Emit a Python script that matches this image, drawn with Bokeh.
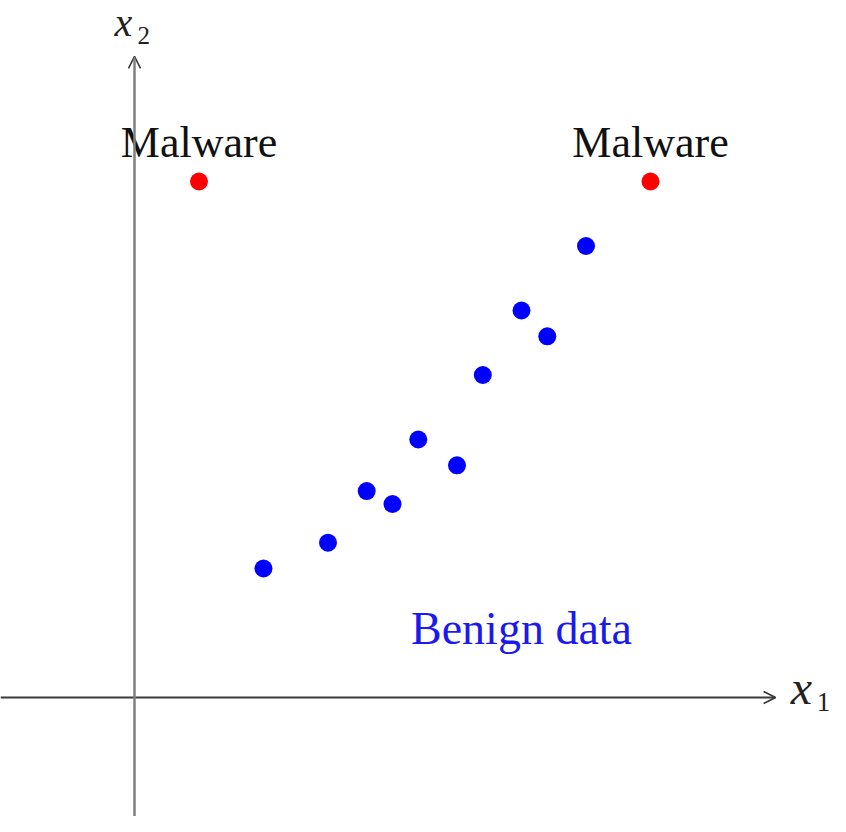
from bokeh.plotting import figure
from bokeh.models import Range1d, Arrow, OpenHead, ColumnDataSource
from bokeh.core.properties import value
from bokeh.embed import file_html
from bokeh.resources import INLINE

# Data
benign_x = [2.0, 3.0, 3.6, 4.0, 4.4, 5.0, 5.4, 6.0, 6.4, 7.0]
benign_y = [2.0, 2.4, 3.2, 3.0, 4.0, 3.6, 5.0, 6.0, 5.6, 7.0]
malware_x = [1.0, 8.0]
malware_y = [8.0, 8.0]
malware_labels = ["Malware", "Malware"]
benign_label = "Benign data"
axis_end = 9.94

W, H = 830, 816
unit = 64.5
ox, oy = 134, 697  # origin in plot pixels (from left/top)

p = figure(width=W, height=H, output_backend="svg", toolbar_location=None,
           x_range=Range1d(-ox / unit, (W - ox) / unit),
           y_range=Range1d(-(H - oy) / unit, oy / unit),
           min_border=0, min_border_left=0, min_border_right=0,
           min_border_top=0, min_border_bottom=0)
p.axis.visible = False
p.grid.visible = False
p.outline_line_color = None
p.background_fill_color = "white"

xs = p.x_range.start
ys = p.y_range.start

# axes as arrows
p.add_layout(Arrow(x_start=xs, y_start=0, x_end=axis_end, y_end=0,
                   line_color="#3a3a3a", line_width=2,
                   end=OpenHead(size=12, line_color="#333333", line_width=1.5)))
p.add_layout(Arrow(x_start=0, y_start=ys, x_end=0, y_end=axis_end,
                   line_color="#7f7f7f", line_width=2.5,
                   end=OpenHead(size=12, line_color="#333333", line_width=1.5)))

serif = value("Liberation Serif")

# axis labels
p.text(x=[axis_end], y=[0], text=["x"], text_font=serif, text_font_style="italic",
       text_font_size="48px", text_baseline="alphabetic", text_align="left",
       text_color="#222222", x_offset=15, y_offset=-10)
p.text(x=[axis_end], y=[0], text=["1"], text_font=serif,
       text_font_size="27px", text_baseline="alphabetic", text_align="left",
       text_color="#222222", x_offset=41, y_offset=4)
p.text(x=[0], y=[axis_end], text=["x"], text_font=serif, text_font_style="italic",
       text_font_size="40px", text_baseline="alphabetic", text_align="left",
       text_color="#222222", x_offset=-20, y_offset=-34)
p.text(x=[0], y=[axis_end], text=["2"], text_font=serif,
       text_font_size="25px", text_baseline="alphabetic", text_align="left",
       text_color="#222222", x_offset=3, y_offset=-21)

# points
p.scatter(benign_x, benign_y, size=18, color="#0000ff", line_color=None)
p.scatter(malware_x, malware_y, size=18, color="#ff0000", line_color=None)

# labels
src = ColumnDataSource(dict(x=malware_x, y=malware_y, t=malware_labels))
p.text(x="x", y="y", text="t", source=src, text_font=serif,
       text_font_size="44px", text_align="center", text_baseline="alphabetic",
       text_color="#111111", y_offset=-39)
p.text(x=[6.0], y=[1.0], text=[benign_label], text_font=serif,
       text_font_size="46px", text_align="center", text_baseline="alphabetic",
       text_color="#1a1aee", y_offset=-5)

open("out.html", "w").write(file_html(p, INLINE))
